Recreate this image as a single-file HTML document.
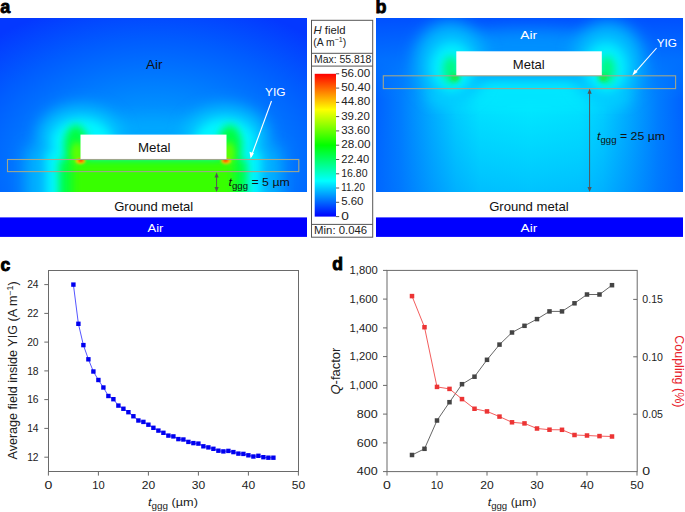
<!DOCTYPE html>
<html><head><meta charset="utf-8"><style>
html,body{margin:0;padding:0;background:#fff;}
#w{position:relative;width:685px;height:512px;overflow:hidden;background:#fff;}
svg{position:absolute;left:0;top:0;}
svg text{font-family:"Liberation Sans",sans-serif;}
.tk{font-size:10.3px;fill:#222;}
.tkd{letter-spacing:0.35px;}
.cbt{font-size:10.2px;fill:#222;letter-spacing:0.45px;}
</style></head><body><div id="w">
<svg width="685" height="512" viewBox="0 0 685 512">
<defs>
<clipPath id="ca"><rect x="0" y="18" width="307" height="174"/></clipPath>
<clipPath id="cb"><rect x="376" y="18" width="307" height="174"/></clipPath>
<radialGradient id="bga" gradientUnits="userSpaceOnUse" cx="153" cy="165" r="168" gradientTransform="translate(153 165) scale(1.45 1) translate(-153 -165)">
<stop offset="0" stop-color="#00b4ff"/><stop offset="0.25" stop-color="#009cff"/><stop offset="0.5" stop-color="#007cff"/><stop offset="0.75" stop-color="#005cff"/><stop offset="1" stop-color="#0438ff"/></radialGradient>
<linearGradient id="bgbh" gradientUnits="userSpaceOnUse" x1="376" y1="0" x2="683" y2="0">
<stop offset="0" stop-color="#0062ff"/><stop offset="0.08" stop-color="#007cff"/><stop offset="0.18" stop-color="#00aaff"/><stop offset="0.26" stop-color="#00ccff"/><stop offset="0.34" stop-color="#00e0ff"/><stop offset="0.5" stop-color="#00e6ff"/><stop offset="0.66" stop-color="#00e0ff"/><stop offset="0.74" stop-color="#00ccff"/><stop offset="0.82" stop-color="#00aaff"/><stop offset="0.92" stop-color="#007cff"/><stop offset="1" stop-color="#0062ff"/></linearGradient>
<linearGradient id="bgbt" gradientUnits="userSpaceOnUse" x1="0" y1="18" x2="0" y2="100">
<stop offset="0" stop-color="#0050ff" stop-opacity="1"/><stop offset="0.5" stop-color="#0070ff" stop-opacity="0.9"/><stop offset="0.72" stop-color="#0078ff" stop-opacity="0.45"/><stop offset="1" stop-color="#0080ff" stop-opacity="0"/></linearGradient>
<linearGradient id="bgbb" gradientUnits="userSpaceOnUse" x1="0" y1="110" x2="0" y2="192">
<stop offset="0" stop-color="#0080ff" stop-opacity="0"/><stop offset="1" stop-color="#0070ff" stop-opacity="0.3"/></linearGradient>
<linearGradient id="cbar" x1="0" y1="0" x2="0" y2="1"><stop offset="0" stop-color="#ff0000"/><stop offset="0.125" stop-color="#ff8000"/><stop offset="0.25" stop-color="#ffff00"/><stop offset="0.375" stop-color="#80ff00"/><stop offset="0.5" stop-color="#00ff00"/><stop offset="0.625" stop-color="#00ff80"/><stop offset="0.75" stop-color="#00ffff"/><stop offset="0.875" stop-color="#0080ff"/><stop offset="1" stop-color="#0000ff"/></linearGradient>
<filter id="b8" x="-50%" y="-50%" width="200%" height="200%"><feGaussianBlur stdDeviation="8"/></filter>
<filter id="b6" x="-50%" y="-50%" width="200%" height="200%"><feGaussianBlur stdDeviation="6"/></filter>
<filter id="b5" x="-50%" y="-50%" width="200%" height="200%"><feGaussianBlur stdDeviation="5"/></filter>
<filter id="b4" x="-50%" y="-50%" width="200%" height="200%"><feGaussianBlur stdDeviation="4"/></filter>
<filter id="b3" x="-50%" y="-50%" width="200%" height="200%"><feGaussianBlur stdDeviation="3"/></filter>
<filter id="b2" x="-50%" y="-50%" width="200%" height="200%"><feGaussianBlur stdDeviation="2"/></filter>
<filter id="b1" x="-50%" y="-50%" width="200%" height="200%"><feGaussianBlur stdDeviation="1.2"/></filter>
</defs>
<g clip-path="url(#ca)">
<rect x="0" y="18" width="307" height="174" fill="url(#bga)"/>
<ellipse cx="153" cy="134" rx="75" ry="14" fill="#00a8ff" filter="url(#b8)"/>
<rect x="26" y="148" width="255" height="60" fill="#00b4ff" filter="url(#b8)"/>
<g filter="url(#b8)" fill="#00c8ff"><ellipse cx="80" cy="136" rx="42" ry="30"/><ellipse cx="226" cy="136" rx="42" ry="30"/></g>
<g filter="url(#b5)" fill="#00f6ff">
<ellipse cx="82" cy="142" rx="30" ry="23"/><ellipse cx="225" cy="142" rx="30" ry="23"/>
<rect x="46" y="152" width="215" height="60"/>
</g>
<g filter="url(#b4)" fill="#00ff40">
<ellipse cx="76" cy="147" rx="12" ry="22"/><ellipse cx="230" cy="147" rx="12" ry="22"/>
<rect x="59" y="160" width="188" height="50"/>
</g>
<g filter="url(#b4)" fill="#38ff00">
<rect x="72" y="161" width="162" height="45"/>
</g>
<g filter="url(#b3)" fill="#60ff00">
<ellipse cx="77" cy="153" rx="6" ry="11"/><ellipse cx="229" cy="153" rx="6" ry="11"/>
</g>
<g filter="url(#b1)">
<ellipse cx="80.5" cy="161" rx="5" ry="3" fill="#ffcc00"/><ellipse cx="226" cy="161" rx="5" ry="3" fill="#ffcc00"/>
<ellipse cx="80.8" cy="160.5" rx="3" ry="1.8" fill="#ff3000"/><ellipse cx="225.6" cy="160.5" rx="3" ry="1.8" fill="#ff3000"/>
</g>
</g>
<g clip-path="url(#cb)">
<rect x="376" y="18" width="307" height="174" fill="url(#bgbh)"/>
<rect x="376" y="18" width="307" height="174" fill="url(#bgbt)"/>
<rect x="376" y="18" width="307" height="174" fill="url(#bgbb)"/>
<ellipse cx="529" cy="60" rx="100" ry="30" fill="#0090ff" filter="url(#b8)"/>
<rect x="432" y="78" width="194" height="24" fill="#00ecff" filter="url(#b8)"/>
<g filter="url(#b8)" fill="#00b8ff">
<ellipse cx="450" cy="62" rx="36" ry="40"/><ellipse cx="608" cy="62" rx="36" ry="40"/>
</g>
<g filter="url(#b6)" fill="#00f0ff">
<ellipse cx="452" cy="68" rx="22" ry="26"/><ellipse cx="606" cy="68" rx="22" ry="26"/>
</g>
<g filter="url(#b4)" fill="#00fa80">
<ellipse cx="451" cy="70" rx="8" ry="14"/><ellipse cx="607" cy="70" rx="8" ry="14"/>
</g>
<g filter="url(#b2)" fill="#18ec40">
<ellipse cx="455" cy="77.5" rx="4.5" ry="4"/><ellipse cx="603.3" cy="77.5" rx="4.5" ry="4"/>
</g>
</g>

<!-- metals & bars -->
<rect x="80.5" y="134.6" width="146" height="24.6" fill="#fff"/>
<rect x="456.3" y="51.3" width="145.5" height="24.6" fill="#fff"/>
<rect x="0" y="217.4" width="307" height="19.5" fill="#0000ff"/>
<rect x="376" y="217.4" width="307" height="19.5" fill="#0000ff"/>
<!-- colorbar -->
<rect x="314.7" y="73.8" width="21.3" height="142.8" fill="url(#cbar)"/>
<rect x="311.5" y="20.3" width="61.2" height="216.9" fill="none" stroke="#555" stroke-width="1"/>
<line x1="311.5" y1="53.3" x2="372.7" y2="53.3" stroke="#555"/>
<line x1="311.5" y1="66.1" x2="372.7" y2="66.1" stroke="#555"/>
<line x1="311.5" y1="224.4" x2="372.7" y2="224.4" stroke="#555"/>
<line x1="336" y1="73.8" x2="339.2" y2="73.8" stroke="#444" stroke-width="0.9"/>
<text x="341.20" y="76.90" textLength="28.90" lengthAdjust="spacingAndGlyphs" style="font-size:10.0px;fill:#222;">56.00</text>
<line x1="336" y1="88.1" x2="339.2" y2="88.1" stroke="#444" stroke-width="0.9"/>
<text x="341.20" y="91.18" textLength="29.30" lengthAdjust="spacingAndGlyphs" style="font-size:10.0px;fill:#222;">50.40</text>
<line x1="336" y1="102.4" x2="339.2" y2="102.4" stroke="#444" stroke-width="0.9"/>
<text x="341.20" y="105.46" textLength="29.10" lengthAdjust="spacingAndGlyphs" style="font-size:10.0px;fill:#222;">44.80</text>
<line x1="336" y1="116.6" x2="339.2" y2="116.6" stroke="#444" stroke-width="0.9"/>
<text x="341.20" y="119.74" textLength="28.60" lengthAdjust="spacingAndGlyphs" style="font-size:10.0px;fill:#222;">39.20</text>
<line x1="336" y1="130.9" x2="339.2" y2="130.9" stroke="#444" stroke-width="0.9"/>
<text x="341.20" y="134.02" textLength="28.60" lengthAdjust="spacingAndGlyphs" style="font-size:10.0px;fill:#222;">33.60</text>
<line x1="336" y1="145.2" x2="339.2" y2="145.2" stroke="#444" stroke-width="0.9"/>
<text x="341.20" y="148.30" textLength="29.30" lengthAdjust="spacingAndGlyphs" style="font-size:10.0px;fill:#222;">28.00</text>
<line x1="336" y1="159.5" x2="339.2" y2="159.5" stroke="#444" stroke-width="0.9"/>
<text x="341.20" y="162.58" textLength="27.90" lengthAdjust="spacingAndGlyphs" style="font-size:10.0px;fill:#222;">22.40</text>
<line x1="336" y1="173.8" x2="339.2" y2="173.8" stroke="#444" stroke-width="0.9"/>
<text x="341.20" y="176.86" textLength="26.30" lengthAdjust="spacingAndGlyphs" style="font-size:10.0px;fill:#222;">16.80</text>
<line x1="336" y1="188.0" x2="339.2" y2="188.0" stroke="#444" stroke-width="0.9"/>
<text x="341.20" y="191.14" textLength="23.70" lengthAdjust="spacingAndGlyphs" style="font-size:10.0px;fill:#222;">11.20</text>
<line x1="336" y1="202.3" x2="339.2" y2="202.3" stroke="#444" stroke-width="0.9"/>
<text x="341.20" y="205.42" textLength="22.30" lengthAdjust="spacingAndGlyphs" style="font-size:10.0px;fill:#222;">5.60</text>
<line x1="336" y1="216.6" x2="339.2" y2="216.6" stroke="#444" stroke-width="0.9"/>
<text x="341.20" y="219.70" textLength="7.60" lengthAdjust="spacingAndGlyphs" style="font-size:10.0px;fill:#222;">0</text>
<!-- YIG rects -->
<rect x="7.5" y="159.5" width="291.3" height="12.1" fill="none" stroke="#a0a68c" stroke-width="1.1"/>
<rect x="383.3" y="75.8" width="292.3" height="12.8" fill="none" stroke="#a0a68c" stroke-width="1.1"/>
<!-- arrows -->
<line x1="271.5" y1="101" x2="251.2" y2="156.5" stroke="#fff" stroke-width="1.1"/>
<path d="M250.6,158.6 L249.5,151.8 L253.9,153.3 Z" fill="#fff"/>
<line x1="216.6" y1="175" x2="216.6" y2="190" stroke="#555" stroke-width="1"/>
<path d="M216.6,172.6 L214.5,177.6 L218.7,177.6 Z M216.6,192 L214.5,187 L218.7,187 Z" fill="#555"/>
<line x1="656.6" y1="48" x2="634" y2="73.6" stroke="#fff" stroke-width="1.1"/>
<path d="M632.3,75.5 L634.6,69.4 L637.6,72.1 Z" fill="#fff"/>
<line x1="589.6" y1="91" x2="589.6" y2="190" stroke="#555" stroke-width="1"/>
<path d="M589.6,88.8 L587.5,93.8 L591.7,93.8 Z M589.6,192 L587.5,187 L591.7,187 Z" fill="#555"/>
<text x="0.3" y="12.6" style="font-size:18px;font-weight:bold;fill:#000;stroke:#000;stroke-width:0.8px">a</text>
<text x="375.6" y="12.7" style="font-size:18px;font-weight:bold;fill:#000;stroke:#000;stroke-width:0.8px">b</text>
<text x="0.4" y="270.6" style="font-size:17.5px;font-weight:bold;fill:#000;stroke:#000;stroke-width:0.9px">c</text>
<text x="332.2" y="269.9" style="font-size:17.5px;font-weight:bold;fill:#000;stroke:#000;stroke-width:0.9px">d</text>
<text x="146.08" y="68.90" textLength="16.54" lengthAdjust="spacingAndGlyphs" style="font-size:12px;fill:#111;">Air</text>
<text x="137.97" y="151.80" textLength="32.56" lengthAdjust="spacingAndGlyphs" style="font-size:12.2px;fill:#111;">Metal</text>
<text x="264.99" y="96.40" textLength="20.52" lengthAdjust="spacingAndGlyphs" style="font-size:11.8px;fill:#fff;">YIG</text>
<text x="228.60" y="185.50" textLength="61.19" lengthAdjust="spacingAndGlyphs" style="font-size:11.6px;fill:#111;"><tspan font-style="italic">t</tspan><tspan dy="3.2" style="font-size:9px">ggg</tspan><tspan dy="-3.2"> = 5 µm</tspan></text>
<text x="114.16" y="211.10" textLength="79.09" lengthAdjust="spacingAndGlyphs" style="font-size:12.4px;fill:#111;">Ground metal</text>
<text x="147.49" y="231.80" textLength="15.92" lengthAdjust="spacingAndGlyphs" style="font-size:11.8px;fill:#fff;">Air</text>
<text x="520.29" y="39.00" textLength="16.92" lengthAdjust="spacingAndGlyphs" style="font-size:11.8px;fill:#fff;">Air</text>
<text x="512.77" y="69.30" textLength="31.96" lengthAdjust="spacingAndGlyphs" style="font-size:12.2px;fill:#111;">Metal</text>
<text x="656.69" y="47.20" textLength="20.32" lengthAdjust="spacingAndGlyphs" style="font-size:11.8px;fill:#fff;">YIG</text>
<text x="597.10" y="139.80" textLength="67.99" lengthAdjust="spacingAndGlyphs" style="font-size:11.6px;fill:#111;"><tspan font-style="italic">t</tspan><tspan dy="3.2" style="font-size:9px">ggg</tspan><tspan dy="-3.2"> = 25 µm</tspan></text>
<text x="489.16" y="210.80" textLength="79.49" lengthAdjust="spacingAndGlyphs" style="font-size:12.4px;fill:#111;">Ground metal</text>
<text x="520.59" y="231.80" textLength="16.72" lengthAdjust="spacingAndGlyphs" style="font-size:11.8px;fill:#fff;">Air</text>
<text x="313.59" y="33.60" textLength="32.02" lengthAdjust="spacingAndGlyphs" style="font-size:10.2px;fill:#222;"><tspan font-style="italic">H</tspan> field</text>
<text x="313.29" y="45.80" textLength="32.92" lengthAdjust="spacingAndGlyphs" style="font-size:10.2px;fill:#222;">(A m<tspan dy="-4.2" style="font-size:7px">−1</tspan><tspan dy="4.2">)</tspan></text>
<text x="314.10" y="62.60" textLength="57.30" lengthAdjust="spacingAndGlyphs" style="font-size:10px;fill:#222;">Max: 55.818</text>
<text x="314.10" y="233.90" textLength="53.10" lengthAdjust="spacingAndGlyphs" style="font-size:10px;fill:#222;">Min: 0.046</text>
<text transform="translate(17.30,459.53) rotate(-90)" textLength="178.16" lengthAdjust="spacingAndGlyphs" style="font-size:12.2px;fill:#222;">Average field inside YIG (A m<tspan dy="-4.5" style="font-size:8.5px">−1</tspan><tspan dy="4.5">)</tspan></text>
<text x="148.00" y="506.00" textLength="49.89" lengthAdjust="spacingAndGlyphs" style="font-size:11.6px;fill:#222;"><tspan font-style="italic">t</tspan><tspan dy="3.2" style="font-size:9px">ggg</tspan><tspan dy="-3.2"> (µm)</tspan></text>
<text x="487.70" y="506.00" textLength="48.69" lengthAdjust="spacingAndGlyphs" style="font-size:11.6px;fill:#222;"><tspan font-style="italic">t</tspan><tspan dy="3.2" style="font-size:9px">ggg</tspan><tspan dy="-3.2"> (µm)</tspan></text>
<text transform="translate(340.30,394.53) rotate(-90)" textLength="46.96" lengthAdjust="spacingAndGlyphs" style="font-size:12.2px;fill:#222;"><tspan font-style="italic">Q</tspan>-factor</text>
<text transform="translate(675.00,335.17) rotate(90)" textLength="72.36" lengthAdjust="spacingAndGlyphs" style="font-size:12.2px;fill:#e8202a;">Coupling (%)</text>
<rect x="48.5" y="270.5" width="250" height="201" fill="none" stroke="#6a6a6a" stroke-width="1"/>
<line x1="44.3" y1="457.2" x2="48.5" y2="457.2" stroke="#6a6a6a"/>
<text x="38.6" y="460.9" text-anchor="end" class="tk">12</text>
<line x1="44.3" y1="428.4" x2="48.5" y2="428.4" stroke="#6a6a6a"/>
<text x="38.6" y="432.1" text-anchor="end" class="tk">14</text>
<line x1="44.3" y1="399.6" x2="48.5" y2="399.6" stroke="#6a6a6a"/>
<text x="38.6" y="403.3" text-anchor="end" class="tk">16</text>
<line x1="44.3" y1="370.9" x2="48.5" y2="370.9" stroke="#6a6a6a"/>
<text x="38.6" y="374.6" text-anchor="end" class="tk">18</text>
<line x1="44.3" y1="342.1" x2="48.5" y2="342.1" stroke="#6a6a6a"/>
<text x="38.6" y="345.8" text-anchor="end" class="tk">20</text>
<line x1="44.3" y1="313.4" x2="48.5" y2="313.4" stroke="#6a6a6a"/>
<text x="38.6" y="317.1" text-anchor="end" class="tk">22</text>
<line x1="44.3" y1="284.6" x2="48.5" y2="284.6" stroke="#6a6a6a"/>
<text x="38.6" y="288.3" text-anchor="end" class="tk">24</text>
<line x1="48.4" y1="471.5" x2="48.4" y2="475.6" stroke="#6a6a6a"/>
<text x="44.48" y="488.90" textLength="7.84" lengthAdjust="spacingAndGlyphs" style="font-size:10.3px;fill:#222;">0</text>
<line x1="98.4" y1="471.5" x2="98.4" y2="475.6" stroke="#6a6a6a"/>
<text x="92.18" y="488.90" textLength="12.44" lengthAdjust="spacingAndGlyphs" style="font-size:10.3px;fill:#222;">10</text>
<line x1="148.4" y1="471.5" x2="148.4" y2="475.6" stroke="#6a6a6a"/>
<text x="141.68" y="488.90" textLength="13.44" lengthAdjust="spacingAndGlyphs" style="font-size:10.3px;fill:#222;">20</text>
<line x1="198.4" y1="471.5" x2="198.4" y2="475.6" stroke="#6a6a6a"/>
<text x="191.68" y="488.90" textLength="13.44" lengthAdjust="spacingAndGlyphs" style="font-size:10.3px;fill:#222;">30</text>
<line x1="248.4" y1="471.5" x2="248.4" y2="475.6" stroke="#6a6a6a"/>
<text x="241.68" y="488.90" textLength="13.44" lengthAdjust="spacingAndGlyphs" style="font-size:10.3px;fill:#222;">40</text>
<line x1="298.4" y1="471.5" x2="298.4" y2="475.6" stroke="#6a6a6a"/>
<text x="291.68" y="488.90" textLength="13.44" lengthAdjust="spacingAndGlyphs" style="font-size:10.3px;fill:#222;">50</text>
<rect x="387" y="270.4" width="250.2" height="201.2" fill="none" stroke="#6a6a6a" stroke-width="1"/>
<line x1="383" y1="471.6" x2="387" y2="471.6" stroke="#6a6a6a"/>
<text x="356.88" y="475.30" textLength="20.84" lengthAdjust="spacingAndGlyphs" style="font-size:10.3px;fill:#222;">400</text>
<line x1="383" y1="442.9" x2="387" y2="442.9" stroke="#6a6a6a"/>
<text x="356.88" y="446.56" textLength="20.84" lengthAdjust="spacingAndGlyphs" style="font-size:10.3px;fill:#222;">600</text>
<line x1="383" y1="414.1" x2="387" y2="414.1" stroke="#6a6a6a"/>
<text x="356.88" y="417.82" textLength="20.84" lengthAdjust="spacingAndGlyphs" style="font-size:10.3px;fill:#222;">800</text>
<line x1="383" y1="385.4" x2="387" y2="385.4" stroke="#6a6a6a"/>
<text x="349.63" y="389.07" textLength="28.09" lengthAdjust="spacingAndGlyphs" style="font-size:10.3px;fill:#222;">1,000</text>
<line x1="383" y1="356.6" x2="387" y2="356.6" stroke="#6a6a6a"/>
<text x="349.63" y="360.33" textLength="28.09" lengthAdjust="spacingAndGlyphs" style="font-size:10.3px;fill:#222;">1,200</text>
<line x1="383" y1="327.9" x2="387" y2="327.9" stroke="#6a6a6a"/>
<text x="349.63" y="331.59" textLength="28.09" lengthAdjust="spacingAndGlyphs" style="font-size:10.3px;fill:#222;">1,400</text>
<line x1="383" y1="299.1" x2="387" y2="299.1" stroke="#6a6a6a"/>
<text x="349.63" y="302.85" textLength="28.09" lengthAdjust="spacingAndGlyphs" style="font-size:10.3px;fill:#222;">1,600</text>
<line x1="383" y1="270.4" x2="387" y2="270.4" stroke="#6a6a6a"/>
<text x="349.63" y="274.11" textLength="28.09" lengthAdjust="spacingAndGlyphs" style="font-size:10.3px;fill:#222;">1,800</text>
<text x="642.38" y="475.30" textLength="7.84" lengthAdjust="spacingAndGlyphs" style="font-size:10.3px;fill:#222;">0</text>
<line x1="633.2" y1="414.2" x2="637.2" y2="414.2" stroke="#6a6a6a"/>
<text x="642.38" y="417.90" textLength="20.54" lengthAdjust="spacingAndGlyphs" style="font-size:10.3px;fill:#222;">0.05</text>
<line x1="633.2" y1="356.8" x2="637.2" y2="356.8" stroke="#6a6a6a"/>
<text x="642.38" y="360.50" textLength="20.54" lengthAdjust="spacingAndGlyphs" style="font-size:10.3px;fill:#222;">0.10</text>
<line x1="633.2" y1="299.4" x2="637.2" y2="299.4" stroke="#6a6a6a"/>
<text x="642.38" y="303.10" textLength="20.54" lengthAdjust="spacingAndGlyphs" style="font-size:10.3px;fill:#222;">0.15</text>
<line x1="387.0" y1="471.6" x2="387.0" y2="475.6" stroke="#6a6a6a"/>
<text x="383.08" y="488.90" textLength="7.84" lengthAdjust="spacingAndGlyphs" style="font-size:10.3px;fill:#222;">0</text>
<line x1="437.0" y1="471.6" x2="437.0" y2="475.6" stroke="#6a6a6a"/>
<text x="430.78" y="488.90" textLength="12.44" lengthAdjust="spacingAndGlyphs" style="font-size:10.3px;fill:#222;">10</text>
<line x1="487.0" y1="471.6" x2="487.0" y2="475.6" stroke="#6a6a6a"/>
<text x="480.28" y="488.90" textLength="13.44" lengthAdjust="spacingAndGlyphs" style="font-size:10.3px;fill:#222;">20</text>
<line x1="537.0" y1="471.6" x2="537.0" y2="475.6" stroke="#6a6a6a"/>
<text x="530.28" y="488.90" textLength="13.44" lengthAdjust="spacingAndGlyphs" style="font-size:10.3px;fill:#222;">30</text>
<line x1="587.0" y1="471.6" x2="587.0" y2="475.6" stroke="#6a6a6a"/>
<text x="580.28" y="488.90" textLength="13.44" lengthAdjust="spacingAndGlyphs" style="font-size:10.3px;fill:#222;">40</text>
<line x1="637.0" y1="471.6" x2="637.0" y2="475.6" stroke="#6a6a6a"/>
<text x="630.28" y="488.90" textLength="13.44" lengthAdjust="spacingAndGlyphs" style="font-size:10.3px;fill:#222;">50</text>
<polyline points="73.4,284.6 78.4,323.8 83.4,345.1 88.4,359.3 93.4,371.5 98.4,380.0 103.4,387.5 108.4,396.0 113.4,399.2 118.4,405.6 123.4,408.8 128.4,412.2 133.4,416.2 138.4,420.5 143.4,421.9 148.4,424.7 153.4,427.8 158.4,430.6 163.4,432.8 168.4,435.6 173.4,436.4 178.4,439.1 183.4,439.5 188.4,441.9 193.4,443.1 198.4,443.6 203.4,446.3 208.4,447.4 213.4,448.8 218.4,450.7 223.4,451.4 228.4,450.9 233.4,452.1 238.4,453.6 243.4,453.9 248.4,455.3 253.4,456.5 258.4,455.8 263.4,457.2 268.4,457.7 273.4,457.7" fill="none" stroke="#2a2aff" stroke-width="0.8"/>
<g fill="#0000f0"><rect x="71.20" y="282.40" width="4.4" height="4.4"/><rect x="76.20" y="321.60" width="4.4" height="4.4"/><rect x="81.20" y="342.90" width="4.4" height="4.4"/><rect x="86.20" y="357.10" width="4.4" height="4.4"/><rect x="91.20" y="369.30" width="4.4" height="4.4"/><rect x="96.20" y="377.80" width="4.4" height="4.4"/><rect x="101.20" y="385.30" width="4.4" height="4.4"/><rect x="106.20" y="393.80" width="4.4" height="4.4"/><rect x="111.20" y="397.00" width="4.4" height="4.4"/><rect x="116.20" y="403.40" width="4.4" height="4.4"/><rect x="121.20" y="406.55" width="4.4" height="4.4"/><rect x="126.20" y="410.00" width="4.4" height="4.4"/><rect x="131.20" y="414.05" width="4.4" height="4.4"/><rect x="136.20" y="418.30" width="4.4" height="4.4"/><rect x="141.20" y="419.70" width="4.4" height="4.4"/><rect x="146.20" y="422.50" width="4.4" height="4.4"/><rect x="151.20" y="425.60" width="4.4" height="4.4"/><rect x="156.20" y="428.40" width="4.4" height="4.4"/><rect x="161.20" y="430.60" width="4.4" height="4.4"/><rect x="166.20" y="433.40" width="4.4" height="4.4"/><rect x="171.20" y="434.20" width="4.4" height="4.4"/><rect x="176.20" y="436.90" width="4.4" height="4.4"/><rect x="181.20" y="437.30" width="4.4" height="4.4"/><rect x="186.20" y="439.70" width="4.4" height="4.4"/><rect x="191.20" y="440.90" width="4.4" height="4.4"/><rect x="196.20" y="441.40" width="4.4" height="4.4"/><rect x="201.20" y="444.10" width="4.4" height="4.4"/><rect x="206.20" y="445.20" width="4.4" height="4.4"/><rect x="211.20" y="446.60" width="4.4" height="4.4"/><rect x="216.20" y="448.50" width="4.4" height="4.4"/><rect x="221.20" y="449.20" width="4.4" height="4.4"/><rect x="226.20" y="448.70" width="4.4" height="4.4"/><rect x="231.20" y="449.90" width="4.4" height="4.4"/><rect x="236.20" y="451.40" width="4.4" height="4.4"/><rect x="241.20" y="451.70" width="4.4" height="4.4"/><rect x="246.20" y="453.10" width="4.4" height="4.4"/><rect x="251.20" y="454.30" width="4.4" height="4.4"/><rect x="256.20" y="453.60" width="4.4" height="4.4"/><rect x="261.20" y="455.00" width="4.4" height="4.4"/><rect x="266.20" y="455.50" width="4.4" height="4.4"/><rect x="271.20" y="455.50" width="4.4" height="4.4"/></g>
<polyline points="412.0,455.0 424.5,448.8 437.0,420.5 449.5,402.2 462.0,384.2 474.5,376.7 487.0,359.8 499.5,344.6 512.0,332.5 524.5,325.8 537.0,319.1 549.5,311.4 562.0,311.4 574.5,303.3 587.0,294.5 599.5,294.5 612.0,285.2" fill="none" stroke="#555" stroke-width="0.9"/>
<g fill="#444"><rect x="409.75" y="452.75" width="4.5" height="4.5"/><rect x="422.25" y="446.55" width="4.5" height="4.5"/><rect x="434.75" y="418.25" width="4.5" height="4.5"/><rect x="447.25" y="399.95" width="4.5" height="4.5"/><rect x="459.75" y="381.95" width="4.5" height="4.5"/><rect x="472.25" y="374.45" width="4.5" height="4.5"/><rect x="484.75" y="357.55" width="4.5" height="4.5"/><rect x="497.25" y="342.35" width="4.5" height="4.5"/><rect x="509.75" y="330.25" width="4.5" height="4.5"/><rect x="522.25" y="323.55" width="4.5" height="4.5"/><rect x="534.75" y="316.85" width="4.5" height="4.5"/><rect x="547.25" y="309.15" width="4.5" height="4.5"/><rect x="559.75" y="309.15" width="4.5" height="4.5"/><rect x="572.25" y="301.05" width="4.5" height="4.5"/><rect x="584.75" y="292.25" width="4.5" height="4.5"/><rect x="597.25" y="292.25" width="4.5" height="4.5"/><rect x="609.75" y="282.95" width="4.5" height="4.5"/></g>
<polyline points="412.0,296.1 424.5,327.2 437.0,386.9 449.5,388.9 462.0,399.1 474.5,408.8 487.0,411.4 499.5,416.6 512.0,422.3 524.5,423.4 537.0,428.5 549.5,429.7 562.0,429.8 574.5,435.0 587.0,435.5 599.5,436.1 612.0,436.5" fill="none" stroke="#f04a4a" stroke-width="0.9"/>
<g fill="#ec3434"><rect x="409.75" y="293.85" width="4.5" height="4.5"/><rect x="422.25" y="324.95" width="4.5" height="4.5"/><rect x="434.75" y="384.65" width="4.5" height="4.5"/><rect x="447.25" y="386.65" width="4.5" height="4.5"/><rect x="459.75" y="396.85" width="4.5" height="4.5"/><rect x="472.25" y="406.50" width="4.5" height="4.5"/><rect x="484.75" y="409.15" width="4.5" height="4.5"/><rect x="497.25" y="414.35" width="4.5" height="4.5"/><rect x="509.75" y="420.05" width="4.5" height="4.5"/><rect x="522.25" y="421.15" width="4.5" height="4.5"/><rect x="534.75" y="426.25" width="4.5" height="4.5"/><rect x="547.25" y="427.45" width="4.5" height="4.5"/><rect x="559.75" y="427.55" width="4.5" height="4.5"/><rect x="572.25" y="432.75" width="4.5" height="4.5"/><rect x="584.75" y="433.25" width="4.5" height="4.5"/><rect x="597.25" y="433.85" width="4.5" height="4.5"/><rect x="609.75" y="434.25" width="4.5" height="4.5"/></g>
</svg>
</div></body></html>
